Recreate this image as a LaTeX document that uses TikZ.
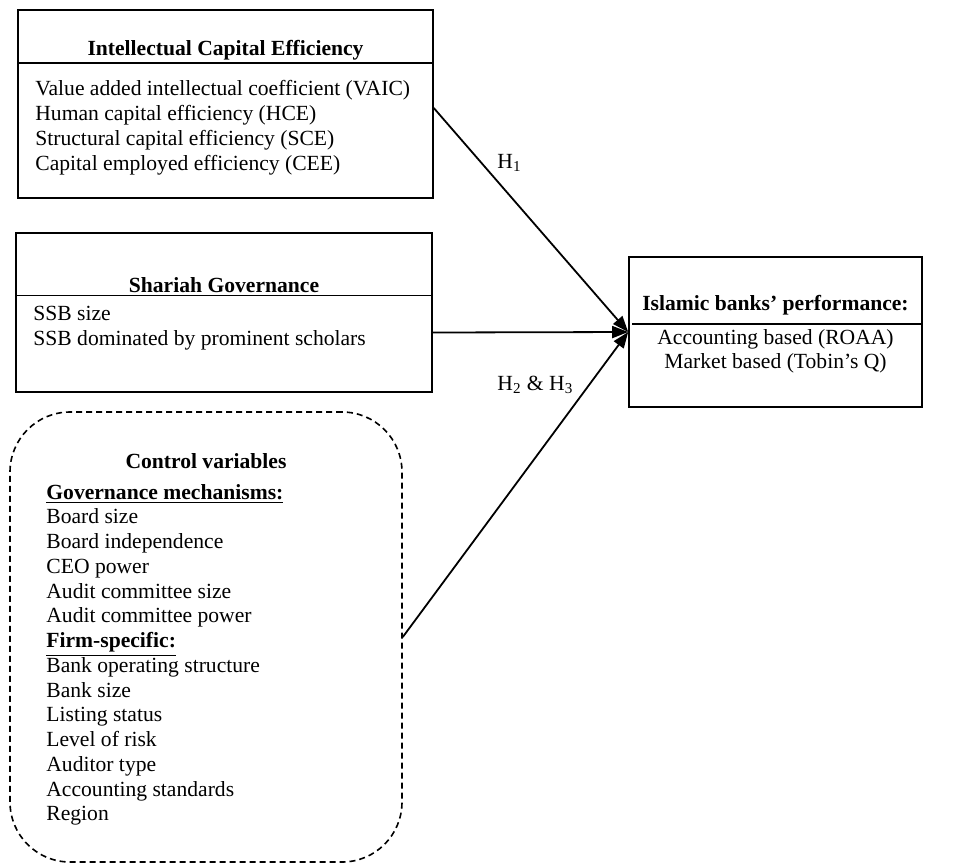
\documentclass[tikz,border=0pt]{standalone}
\usepackage{fontspec}
\setmainfont{Liberation Serif}
\usetikzlibrary{arrows.meta,fit,positioning}

\tikzset{
  box/.style={draw, line width=0.8pt, inner sep=0pt},
  head/.style={anchor=base, inner sep=0pt, font=\fontsize{10.8}{12.5}\selectfont\bfseries},
  item/.style={anchor=base west, inner sep=0pt, font=\fontsize{10.8}{12.5}\selectfont},
  centreitem/.style={item, anchor=base},
  link/.style={line width=0.9pt, -{Triangle[length=8pt,width=6pt]}},
}

\begin{document}
\begin{tikzpicture}[x=0.5pt,y=-0.5pt]
\useasboundingbox (0,0) rectangle (955,864);

% intellectual capital efficiency
\node[box, fit={(18,10) (433,198)}] (ice) {};
\node[head] (iceh) at (225.5,55) {Intellectual Capital Efficiency};
\draw[line width=0.7pt] (ice.west |- 0,63) -- (ice.east |- 0,63);
\foreach \lbl [count=\i] in {Value added intellectual coefficient (VAIC), Human capital efficiency (HCE), Structural capital efficiency (SCE), Capital employed efficiency (CEE)}
  \node[item] (ice\i) at (35,{70+25*\i}) {\lbl};

% shariah governance
\node[box, fit={(16,233) (432,392)}] (sg) {};
\node[head] (sgh) at (224,292.5) {Shariah Governance};
\draw[line width=0.5pt] (sg.west |- 0,295) -- (sg.east |- 0,295);
\foreach \lbl [count=\i] in {SSB size, SSB dominated by prominent scholars}
  \node[item] (sg\i) at (33,{296+24.5*\i}) {\lbl};

% islamic banks performance
\node[box, fit={(629,257) (922,407)}] (ibp) {};
\node[head] (ibph) at (775.5,310) {Islamic banks' performance:};
\draw[line width=0.7pt] ([xshift=2pt]ibp.west |- 0,324) -- (ibp.east |- 0,324);
\node[centreitem] (ibp1) at (775.5,344) {Accounting based (ROAA)};
\node[centreitem] (ibp2) at (775.5,368) {Market based (Tobin's Q)};

% control variables
\node[box, fit={(10,412) (402,862)}, dash pattern=on 3pt off 2pt, rounded corners=30pt] (cv) {};
\node[head] (cvh) at (206,468) {Control variables};
\foreach \lbl [count=\i from 0] in {\underline{\textbf{Governance mechanisms:}}, Board size, Board independence, CEO power, Audit committee size, Audit committee power, \underline{\textbf{Firm-specific:}}, Bank operating structure, Bank size, Listing status, Level of risk, Auditor type, Accounting standards, Region}
  \node[item] (cv\i) at (46,{499+24.75*\i}) {\lbl};

% hypotheses
\draw[link] ([yshift=-2pt]ice.east) -- (ibp.west);
\draw[link] ([yshift=-10pt]sg.east) -- (ibp.west);
\draw[link] (cv.east) -- (ibp.west);
\node[item] (h1) at (497,168) {H\textsubscript{1}};
\node[item] (h23) at (497,390) {H\textsubscript{2} \& H\textsubscript{3}};

\end{tikzpicture}
\end{document}
